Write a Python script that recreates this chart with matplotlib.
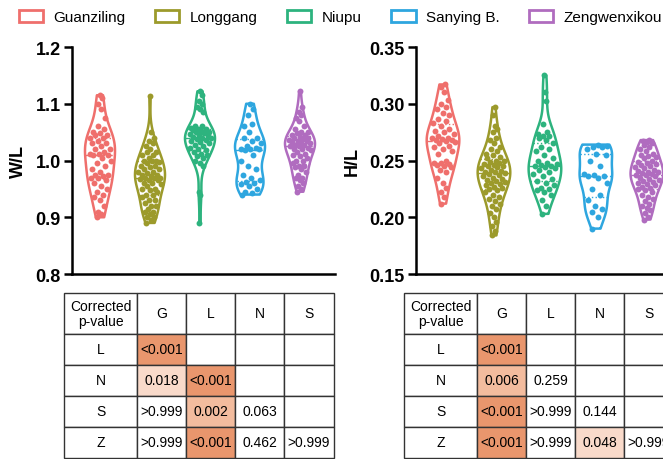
import numpy as np
import matplotlib
matplotlib.use('Agg')
import matplotlib.pyplot as plt
from matplotlib import cbook, mlab
from matplotlib.patches import Patch, Rectangle

plt.rcParams['font.family'] = ['Liberation Sans', 'DejaVu Sans']

sites = ['Guanziling', 'Longgang', 'Niupu', 'Sanying B.', 'Zengwenxikou']
colors = ['#EF6F6C', '#9C9A2B', '#2DB37E', '#2EA6DF', '#B06CBF']

# W/L ratio per site
wl_guanziling = [1.115, 1.11, 1.10, 1.09, 1.075, 1.06, 1.055, 1.05, 1.048, 1.045, 1.045, 1.04, 1.04,
                 1.035, 1.03, 1.03, 1.025, 1.02, 1.02, 1.015, 1.012, 1.012, 1.01, 1.01, 1.005, 1.0,
                 0.995, 0.99, 0.985, 0.98, 0.975, 0.975, 0.972, 0.97, 0.97, 0.965, 0.96, 0.955, 0.95,
                 0.945, 0.94, 0.935, 0.93, 0.92, 0.91, 0.905, 0.90]
wl_longgang = [1.113, 1.05, 1.04, 1.035, 1.03, 1.025, 1.02, 1.015, 1.015, 1.01, 1.01, 1.005, 1.0, 1.0,
               1.0, 0.998, 0.995, 0.99, 0.99, 0.988, 0.985, 0.985, 0.98, 0.98, 0.978, 0.975, 0.975,
               0.972, 0.97, 0.97, 0.97, 0.968, 0.965, 0.965, 0.96, 0.96, 0.958, 0.955, 0.95, 0.95,
               0.948, 0.945, 0.94, 0.94, 0.935, 0.93, 0.93, 0.925, 0.92, 0.92, 0.915, 0.91, 0.91,
               0.905, 0.9, 0.9, 0.895, 0.89]
wl_niupu = [1.122, 1.115, 1.105, 1.10, 1.095, 1.09, 1.085, 1.06, 1.06, 1.058, 1.056, 1.055, 1.054,
            1.052, 1.05, 1.05, 1.048, 1.046, 1.045, 1.043, 1.042, 1.04, 1.04, 1.038, 1.036, 1.035,
            1.033, 1.03, 1.028, 1.025, 1.022, 1.02, 1.018, 1.015, 1.012, 1.01, 1.008, 1.005, 1.0,
            0.995, 0.99, 0.945, 0.94, 0.89]
wl_sanying = [1.10, 1.09, 1.08, 1.065, 1.06, 1.05, 1.04, 1.04, 1.035, 1.03, 1.025, 1.022, 1.02, 1.02,
              1.02, 1.018, 1.01, 1.0, 0.99, 0.985, 0.975, 0.97, 0.965, 0.962, 0.96, 0.958, 0.955,
              0.95, 0.945, 0.942, 0.94]
wl_zengwen = [1.122, 1.095, 1.085, 1.08, 1.075, 1.07, 1.06, 1.055, 1.05, 1.05, 1.048, 1.045, 1.045,
              1.042, 1.04, 1.04, 1.038, 1.036, 1.035, 1.035, 1.032, 1.03, 1.03, 1.028, 1.027, 1.025,
              1.025, 1.022, 1.02, 1.02, 1.018, 1.015, 1.012, 1.01, 1.008, 1.005, 1.0, 1.0, 0.995,
              0.99, 0.99, 0.988, 0.985, 0.98, 0.975, 0.97, 0.97, 0.965, 0.96, 0.955, 0.95, 0.945]

# H/L ratio per site
hl_guanziling = [0.317, 0.315, 0.31, 0.303, 0.30, 0.297, 0.295, 0.292, 0.29, 0.287, 0.285, 0.283,
                 0.28, 0.278, 0.276, 0.275, 0.273, 0.272, 0.27, 0.27, 0.269, 0.268, 0.268, 0.267,
                 0.266, 0.265, 0.263, 0.262, 0.26, 0.258, 0.256, 0.25, 0.248, 0.248, 0.247, 0.246,
                 0.245, 0.244, 0.242, 0.24, 0.235, 0.23, 0.226, 0.222, 0.218, 0.212]
hl_longgang = [0.297, 0.29, 0.28, 0.278, 0.275, 0.27, 0.268, 0.265, 0.262, 0.26, 0.258, 0.256, 0.255,
               0.253, 0.252, 0.25, 0.25, 0.249, 0.248, 0.247, 0.246, 0.245, 0.245, 0.244, 0.243,
               0.242, 0.241, 0.24, 0.24, 0.239, 0.238, 0.237, 0.236, 0.235, 0.234, 0.233, 0.232,
               0.231, 0.23, 0.229, 0.228, 0.227, 0.226, 0.225, 0.224, 0.222, 0.22, 0.218, 0.216,
               0.214, 0.212, 0.21, 0.207, 0.204, 0.2, 0.196, 0.192, 0.188, 0.184]
hl_niupu = [0.325, 0.31, 0.302, 0.282, 0.275, 0.273, 0.272, 0.272, 0.27, 0.268, 0.265, 0.262, 0.26,
            0.258, 0.255, 0.252, 0.25, 0.248, 0.247, 0.246, 0.245, 0.245, 0.244, 0.243, 0.242, 0.24,
            0.238, 0.236, 0.234, 0.232, 0.23, 0.228, 0.226, 0.225, 0.224, 0.222, 0.22, 0.215, 0.21,
            0.203]
hl_sanying = [0.264, 0.263, 0.262, 0.262, 0.26, 0.256, 0.255, 0.25, 0.245, 0.238, 0.237, 0.236, 0.236,
              0.235, 0.23, 0.225, 0.22, 0.215, 0.21, 0.207, 0.205, 0.2, 0.19]
hl_zengwen = [0.268, 0.267, 0.266, 0.265, 0.264, 0.262, 0.26, 0.258, 0.256, 0.255, 0.254, 0.253,
              0.252, 0.25, 0.249, 0.248, 0.247, 0.246, 0.245, 0.244, 0.243, 0.242, 0.241, 0.24, 0.24,
              0.239, 0.238, 0.237, 0.237, 0.236, 0.235, 0.234, 0.233, 0.232, 0.231, 0.23, 0.229,
              0.228, 0.227, 0.226, 0.225, 0.224, 0.222, 0.22, 0.218, 0.216, 0.214, 0.212, 0.21,
              0.208, 0.206, 0.204, 0.2, 0.198]

# pairwise comparison tables
row_labels = ['L', 'N', 'S', 'Z']
col_labels = ['G', 'L', 'N', 'S']
wl_pvalues = [['<0.001', '', '', ''],
              ['0.018', '<0.001', '', ''],
              ['>0.999', '0.002', '0.063', ''],
              ['>0.999', '<0.001', '0.462', '>0.999']]
hl_pvalues = [['<0.001', '', '', ''],
              ['0.006', '0.259', '', ''],
              ['<0.001', '>0.999', '0.144', ''],
              ['<0.001', '>0.999', '0.048', '>0.999']]


def shade(p):
    if p == '<0.001':
        return '#E9966D'
    if p in ('0.002', '0.006'):
        return '#F3BC9E'
    if p in ('0.018', '0.048'):
        return '#F9DACA'
    return 'white'


def kde(X, coords):
    return mlab.GaussianKDE(X, 0.45).evaluate(coords)


def draw_violins(ax, groups, width):
    positions = np.arange(len(groups))
    stats = cbook.violin_stats(groups, kde, points=200)
    parts = ax.violin(stats, positions=positions, widths=width,
                      showmeans=False, showextrema=False, showmedians=False)
    for body, c in zip(parts['bodies'], colors):
        body.set_facecolor('none')
        body.set_edgecolor(c)
        body.set_linewidth(1.8)
        body.set_alpha(1)
    for pos, st, vals, c in zip(positions, stats, groups, colors):
        half = 0.5 * width * st['vals'] / st['vals'].max()
        q1, med, q3 = np.percentile(vals, [25, 50, 75])
        for q, ls in ((q1, ':'), (med, '--'), (q3, ':')):
            hw = np.interp(q, st['coords'], half)
            ax.hlines(q, pos - hw, pos + hw, colors=c, linestyles=ls, lw=1)
        ys = np.sort(vals)
        hw = np.interp(ys, st['coords'], half) * 0.8
        u = ((np.arange(len(ys)) * 0.618034) % 1) * 2 - 1
        ax.scatter(pos + hw * u, ys, s=18, color=c, zorder=3, linewidths=0)


def style_axes(ax):
    for side in ('top', 'right'):
        ax.spines[side].set_visible(False)
    for side in ('left', 'bottom'):
        ax.spines[side].set_linewidth(1.8)
    ax.set_xticks([])
    ax.tick_params(axis='y', width=1.8, length=6, labelsize=13, pad=2)
    for lab in ax.get_yticklabels():
        lab.set_fontweight('bold')


fig = plt.figure(figsize=(6.63, 4.60), dpi=100)

ax1 = fig.add_axes([72 / 663, 185 / 460, 263 / 663, 227 / 460])
draw_violins(ax1, [wl_guanziling, wl_longgang, wl_niupu, wl_sanying, wl_zengwen], 0.6)
ax1.set_xlim(-0.56, 4.7)
ax1.set_ylim(0.8, 1.2)
ax1.set_yticks([0.8, 0.9, 1.0, 1.1, 1.2])
ax1.set_yticklabels(['%.1f' % v for v in ax1.get_yticks()])
ax1.set_ylabel('W/L', fontsize=13, fontweight='bold', labelpad=6)
style_axes(ax1)

ax2 = fig.add_axes([416 / 663, 185 / 460, 265 / 663, 227 / 460])
draw_violins(ax2, [hl_guanziling, hl_longgang, hl_niupu, hl_sanying, hl_zengwen], 0.64)
ax2.set_xlim(-0.53, 4.67)
ax2.set_ylim(0.15, 0.35)
ax2.set_yticks([0.15, 0.20, 0.25, 0.30, 0.35])
ax2.set_yticklabels(['%.2f' % v for v in ax2.get_yticks()])
ax2.set_ylabel('H/L', fontsize=13, fontweight='bold', labelpad=6)
style_axes(ax2)

# tables, drawn in a pixel-unit overlay
tax = fig.add_axes([0, 0, 1, 1], zorder=-1)
tax.set_xlim(0, 663)
tax.set_ylim(460, 0)
tax.axis('off')

col_w = [73, 49, 49, 49, 50]
row_h = [41, 31, 31, 31, 31]


def draw_table(x0, y0, pvals):
    xs = np.concatenate([[x0], x0 + np.cumsum(col_w)])
    ys = np.concatenate([[y0], y0 + np.cumsum(row_h)])
    header = ['Corrected\np-value'] + col_labels
    for j, txt in enumerate(header):
        tax.add_patch(Rectangle((xs[j], ys[0]), col_w[j], row_h[0], facecolor='white',
                                edgecolor='#333333', lw=1))
        tax.text((xs[j] + xs[j + 1]) / 2, (ys[0] + ys[1]) / 2, txt, ha='center', va='center',
                 fontsize=10, linespacing=1.05)
    for i, rl in enumerate(row_labels):
        cells = [rl] + pvals[i]
        for j, txt in enumerate(cells):
            fc = 'white' if j == 0 else shade(txt)
            tax.add_patch(Rectangle((xs[j], ys[i + 1]), col_w[j], row_h[i + 1], facecolor=fc,
                                    edgecolor='#333333', lw=1))
            tax.text((xs[j] + xs[j + 1]) / 2, (ys[i + 1] + ys[i + 2]) / 2, txt,
                     ha='center', va='center', fontsize=10)


draw_table(64, 294, wl_pvalues)
draw_table(404, 294, hl_pvalues)

handles = [Patch(facecolor='white', edgecolor=c, linewidth=2) for c in colors]
fig.legend(handles, sites, ncol=5, loc='center left', bbox_to_anchor=(0.028, 1 - 18 / 460),
           frameon=False, fontsize=11, handlelength=1.6, handleheight=0.85,
           handletextpad=0.7, columnspacing=1.9, borderaxespad=0, borderpad=0)

fig.savefig('out.png', dpi=100)
